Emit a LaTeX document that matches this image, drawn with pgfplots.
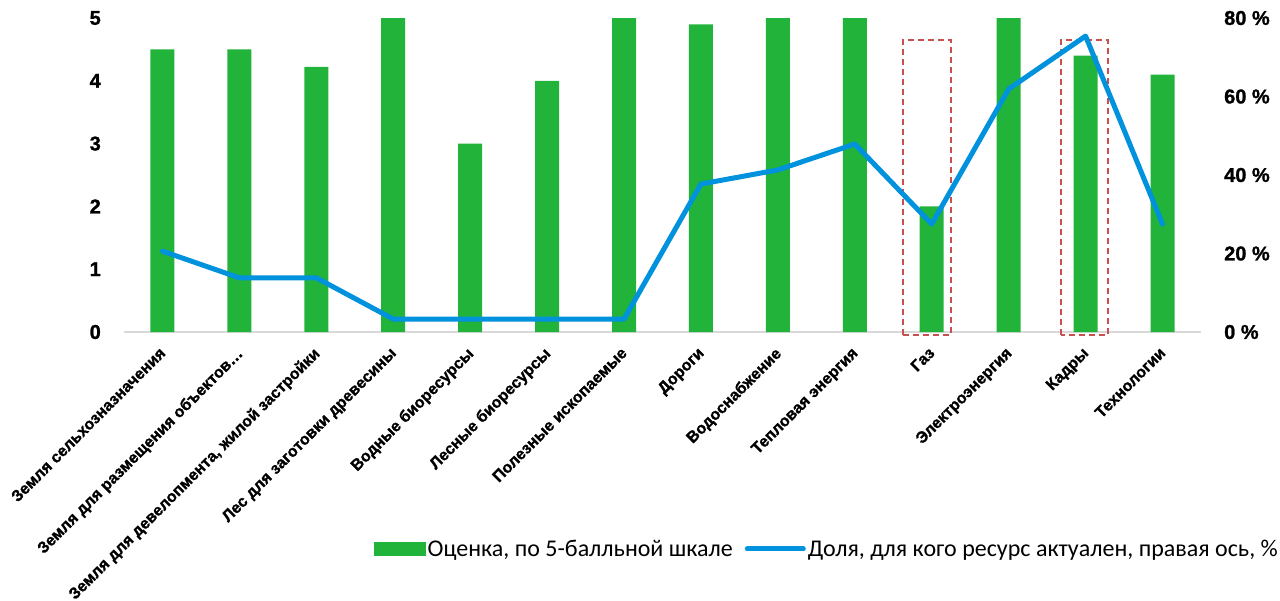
\documentclass[border=0pt]{standalone}
\usepackage{pgfplots}
\pgfplotsset{compat=1.18}
\usepackage{fontspec}
\setmainfont{Liberation Sans}
\newfontfamily\calfont{Carlito}
\newfontfamily\tickfont{Liberation Sans}[BoldFeatures={FakeBold=1.2}]
\definecolor{barg}{RGB}{34,179,58}
\definecolor{lineb}{RGB}{0,146,221}
\definecolor{boxr}{RGB}{200,80,77}
\definecolor{axg}{RGB}{217,217,217}
\pgfplotstableread{
x score share
0 4.5 20.6
1 4.5 13.8
2 4.22 13.8
3 5 3.3
4 3 3.3
5 4 3.3
6 5 3.3
7 4.9 37.7
8 5 41.3
9 5 47.9
10 2 27.5
11 5 61.9
12 4.4 75.4
13 4.1 27.5
}\datatable
\begin{document}
\begin{tikzpicture}[x=1pt,y=1pt]
\useasboundingbox (0,-601) rectangle (1280,0);
\pgfplotsset{
  base/.style={
    at={(124pt,-332pt)}, anchor=south west,
    scale only axis, width=1077pt, height=314pt,
    xmin=-0.5, xmax=13.5,
    clip=false,
    major tick length=0pt,
    /pgf/number format/assume math mode=true,
  }
}
\begin{axis}[base,
  ymin=0, ymax=5,
  axis x line=bottom, axis y line=left,
  x axis line style={draw=axg, line width=1.5pt, -},
  y axis line style={draw=none},
  ytick={0,1,2,3,4,5},
  yticklabel style={font=\tickfont\bfseries\fontsize{20}{22}\selectfont, anchor=east, inner sep=0pt, xshift=-23pt},
  xtick={0,...,13},
  xticklabels={Земля сельхозназначения,Земля для размещения объектов…,{Земля для девелопмента, жилой застройки},Лес для заготовки древесины,Водные биоресурсы,Лесные биоресурсы,Полезные ископаемые,Дороги,Водоснабжение,Тепловая энергия,Газ,Электроэнергия,Кадры,Технологии},
  xticklabel style={xshift=-4pt, yshift=-14pt, font=\tickfont\bfseries\fontsize{16}{18}\selectfont, rotate=45, anchor=north east, inner sep=0pt},
]
\addplot[ybar, bar width=24pt, fill=barg, draw=none] table[x=x,y=score]{\datatable};
\draw[boxr, line width=1.8pt, dash pattern=on 6pt off 4pt] (axis cs:9.63,-0.05) rectangle (axis cs:10.25,4.65);
\draw[boxr, line width=1.8pt, dash pattern=on 6pt off 4pt] (axis cs:11.68,-0.05) rectangle (axis cs:12.29,4.65);
\end{axis}
\begin{axis}[base,
  ymin=0, ymax=80,
  axis x line=none, axis y line=right,
  y axis line style={draw=none},
  xtick=\empty,
  ytick={0,20,40,60,80},
  yticklabels={0 \%,20 \%,40 \%,60 \%,80 \%},
  yticklabel style={font=\tickfont\bfseries\fontsize{20}{22}\selectfont, anchor=west, inner sep=0pt, xshift=23pt},
  legend style={at={(1.0734,-0.691)}, anchor=east, draw=none, fill=none,
    font=\calfont\fontsize{24}{26}\selectfont, legend columns=2,
    /tikz/every even column/.append style={column sep=10pt},
    legend cell align=left, inner sep=0pt},
]
\addlegendimage{legend image code/.code={\fill[barg] (0pt,-6.5pt) rectangle (51pt,6.5pt);}}
\addlegendentry{Оценка, по 5-балльной шкале}
\addplot[lineb, line width=5pt, line join=round, line cap=round,
  legend image code/.code={\draw[lineb, line width=5pt, line cap=round] (0pt,0pt) -- (56pt,0pt);}]
  table[x=x,y=share]{\datatable};
\addlegendentry{Доля, для кого ресурс актуален, правая ось, \%}
\end{axis}
\end{tikzpicture}
\end{document}
